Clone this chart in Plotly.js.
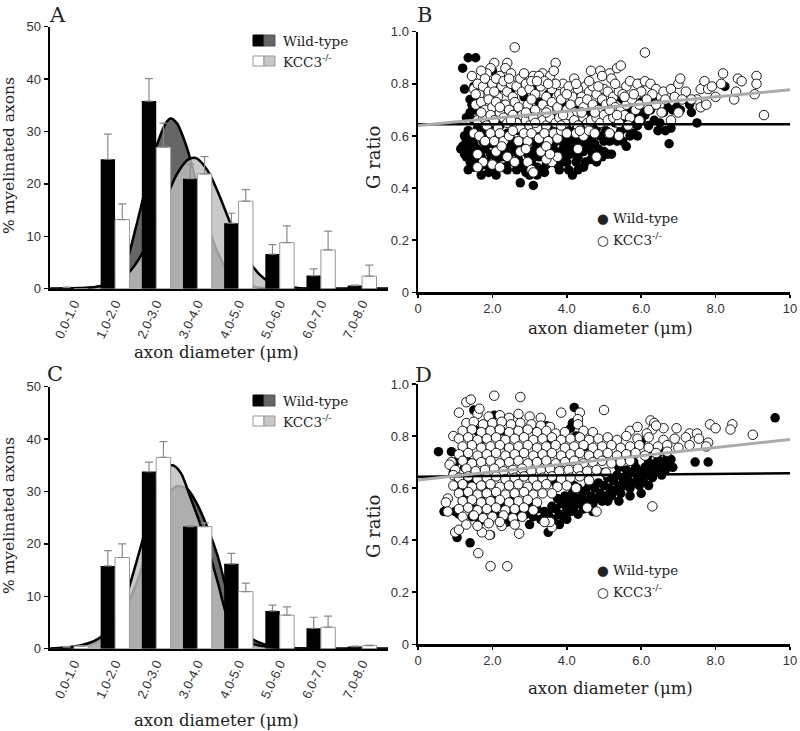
<!DOCTYPE html>
<html><head><meta charset="utf-8">
<script src="https://cdn.plot.ly/plotly-3.0.1.min.js"></script>
<style>html,body{margin:0;padding:0;background:#fff}#chart{width:800px;height:731px}</style>
</head><body><div id="chart"></div>
<script>
// ---------- DATA ----------
const binLabels = ['0.0-1.0','1.0-2.0','2.0-3.0','3.0-4.0','4.0-5.0','5.0-6.0','6.0-7.0','7.0-8.0'];
const binPos = [0,1,2,3,4,5,6,7];

// Panel A (% myelinated axons)
const wtA  = [0.2, 24.7, 35.8, 21.0, 12.5, 6.6, 2.5, 0.6];
const wtAerr = [0.1, 4.8, 4.3, 2.8, 1.9, 1.8, 1.3, 0.1];
const kccA = [0, 13.2, 27.0, 21.9, 16.7, 8.8, 7.4, 2.4];
const kccAerr = [0, 3.0, 4.6, 3.3, 2.2, 3.2, 3.6, 2.1];
// Panel C
const wtC  = [0.3, 15.8, 33.8, 23.3, 16.2, 7.2, 3.9, 0.4];
const wtCerr = [0.1, 2.9, 1.8, 0.2, 2.0, 1.1, 2.1, 0.1];
const kccC = [0.5, 17.4, 36.5, 23.3, 10.9, 6.4, 4.1, 0.6];
const kccCerr = [0.1, 2.6, 3.0, 0.7, 1.6, 1.6, 2.1, 0.1];

// fitted distribution curves (position on bin axis, value)
const wtCurveAx = [-0.58,0,0.5,0.8,1.0,1.25,1.5,1.75,2.0,2.25,2.35,2.5,2.75,3.0,3.25,3.5,3.75,4.0,4.5,5.0,7.63];
const wtCurveAy = [0,0.1,0.3,0.8,1.8,4.5,11.5,19.5,27.0,31.8,32.5,31.6,26.8,19.5,12.3,6.8,3.2,1.3,0.2,0.05,0];
const kccCurveAx = [-0.58,0,0.5,1.0,1.25,1.5,1.75,2.0,2.25,2.5,2.75,2.9,3.0,3.25,3.5,3.75,4.0,4.25,4.5,4.75,5.0,5.5,7.63];
const kccCurveAy = [0,0.05,0.3,1.1,2.4,4.7,8.1,12.5,17.4,21.8,24.5,25.0,24.8,22.5,18.4,13.5,8.9,5.3,2.8,1.3,0.6,0.1,0];
const wtCurveCx = [-0.58,0,0.5,1.0,1.5,1.75,2.0,2.25,2.5,2.75,3.0,3.25,3.5,3.75,4.0,4.25,4.5,4.75,5.0,5.5,7.63];
const wtCurveCy = [0,0.2,1.0,4.0,12.0,18.0,24.0,29.0,31.0,30.5,27.5,23.0,17.5,10.0,4.5,2.2,1.2,0.5,0.2,0.05,0];
const kccCurveCx = [-0.58,0,0.5,0.75,1.0,1.25,1.5,1.75,2.0,2.25,2.4,2.6,2.8,3.05,3.25,3.5,3.75,4.0,4.25,4.5,5.0,5.5,7.63];
const kccCurveCy = [0,0.4,1.5,2.8,5.0,9.5,16.0,23.0,30.0,34.5,35.0,33.5,29.5,24.2,19.5,12.5,5.5,2.5,1.2,0.6,0.2,0.05,0];

// Panel B scatter (axon diameter, G ratio)
const wtB = [[1.15,.55],[1.2,.56],[1.25,.53],[1.3,.58],[1.3,.52],[1.35,.55],[1.4,.50],[1.45,.53],[1.2,.86],[1.25,.78],[1.35,.90],[1.55,.90],[1.5,.79],[1.3,.67],[1.4,.74],[1.45,.72],[1.55,.75],[1.6,.73],[1.55,.70],[1.5,.66],[1.65,.71],[1.4,.69],[1.35,.62],[1.45,.60],[1.5,.57],[1.6,.55],[1.55,.51],[1.65,.48],[1.7,.52],[1.75,.58],[1.7,.62],[1.8,.55],[1.85,.50],[1.9,.46],[1.95,.53],[2.0,.57],[2.05,.47],[2.1,.51],[2.15,.55],[2.2,.59],[2.0,.62],[2.25,.52],[2.3,.48],[2.35,.56],[2.4,.47],[2.45,.53],[2.5,.58],[2.55,.50],[2.6,.54],[2.65,.47],[2.7,.51],[2.75,.42],[2.8,.56],[2.85,.49],[2.9,.46],[2.95,.53],[3.0,.58],[3.05,.50],[3.1,.41],[3.15,.55],[3.2,.48],[3.25,.52],[3.3,.47],[3.35,.57],[3.4,.53],[3.45,.49],[3.5,.55],[3.55,.60],[3.6,.51],[3.65,.57],[3.7,.54],[3.75,.49],[3.8,.47],[3.85,.58],[3.9,.55],[3.95,.52],[4.0,.60],[4.05,.56],[4.1,.53],[4.15,.45],[4.2,.58],[4.25,.55],[4.3,.47],[4.3,.52],[4.35,.60],[4.4,.57],[4.45,.54],[4.5,.62],[4.55,.58],[4.6,.55],[4.65,.51],[4.7,.60],[4.75,.57],[4.8,.63],[4.85,.55],[4.9,.60],[4.95,.52],[5.0,.58],[5.05,.62],[5.1,.53],[5.2,.53],[5.25,.60],[5.3,.65],[5.35,.58],[5.45,.62],[5.5,.58],[5.55,.66],[5.6,.63],[5.7,.60],[5.75,.65],[5.8,.61],[5.85,.67],[5.9,.64],[6.0,.66],[6.05,.69],[6.1,.68],[6.2,.64],[6.25,.70],[6.35,.66],[6.45,.62],[6.5,.65],[6.6,.69],[6.65,.62],[6.75,.57],[6.8,.63],[6.7,.71],[6.85,.70],[6.95,.71],[7.05,.70],[7.35,.69],[7.3,.72],[7.5,.65],[8.25,.79],[1.7,.77],[1.85,.80],[2.0,.85],[2.15,.78],[2.3,.72],[2.5,.78],[2.6,.69],[2.85,.75],[3.0,.70],[3.2,.79],[3.25,.73],[3.5,.76],[3.7,.68],[3.9,.72],[4.1,.66],[4.3,.70],[4.6,.68],[4.9,.72],[5.35,.75],[5.5,.74],[5.2,.69],[5.7,.70],[6.0,.73],[6.3,.74],[1.6,.63],[1.9,.66],[2.2,.64],[2.7,.62],[3.1,.63],[3.6,.64],[4.0,.63],[4.4,.64],[1.8,.60],[2.1,.60],[2.4,.61],[2.9,.60],[3.3,.60],[3.8,.62],[4.2,.62],[1.9,.57],[2.6,.58],[3.2,.57],[3.6,.55],[4.0,.50],[4.5,.50],[4.7,.53],[3.9,.58],[4.1,.59],[4.25,.50],[4.35,.56],[4.5,.57],[1.25,.60],[1.4,.57],[1.5,.48],[1.7,.45],[1.8,.49],[2.1,.45],[2.3,.55],[2.45,.50],[2.55,.56],[2.7,.55],[2.8,.48],[3.0,.45],[3.1,.53],[3.2,.45],[3.4,.46],[3.5,.50],[3.7,.58],[3.9,.50],[4.05,.47],[4.45,.48],[4.6,.60],[4.8,.50],[5.0,.54],[5.15,.58],[5.6,.56],[5.9,.60],[4.1,.56],[3.3,.55],[2.9,.57],[1.35,.47]];
const kccB = [[2.6,.94],[6.1,.92],[2.05,.88],[2.4,.88],[3.7,.88],[1.95,.86],[2.35,.86],[4.65,.85],[4.9,.85],[5.15,.84],[5.35,.86],[5.45,.87],[3.35,.84],[3.55,.83],[4.2,.82],[4.95,.83],[5.2,.82],[1.45,.83],[1.85,.84],[1.7,.85],[2.2,.83],[2.5,.84],[3.1,.83],[3.25,.83],[3.9,.80],[4.5,.79],[5.6,.79],[5.95,.80],[1.5,.78],[1.6,.80],[1.65,.76],[1.75,.79],[1.8,.82],[1.9,.77],[2.0,.80],[2.1,.82],[2.15,.75],[2.25,.79],[2.3,.81],[2.4,.77],[2.5,.80],[2.55,.75],[2.65,.79],[2.75,.82],[2.8,.77],[2.9,.80],[3.0,.78],[3.05,.81],[3.15,.76],[3.3,.79],[3.4,.81],[3.45,.75],[3.6,.78],[3.7,.80],[3.8,.76],[3.95,.77],[4.05,.79],[4.15,.75],[4.3,.78],[4.4,.75],[4.6,.77],[4.7,.79],[4.8,.76],[5.0,.78],[5.1,.77],[5.25,.75],[5.4,.77],[5.5,.76],[1.55,.72],[1.7,.73],[1.8,.70],[1.9,.74],[2.0,.71],[2.1,.73],[2.2,.69],[2.35,.72],[2.45,.70],[2.6,.73],[2.7,.71],[2.8,.68],[2.95,.72],[3.05,.74],[3.15,.70],[3.25,.67],[3.35,.72],[3.5,.70],[3.6,.73],[3.75,.71],[3.85,.74],[4.0,.70],[4.1,.72],[4.2,.69],[4.35,.73],[4.45,.71],[4.55,.74],[4.7,.72],[4.85,.70],[4.95,.74],[5.05,.72],[5.2,.73],[5.3,.71],[5.45,.70],[5.6,.72],[5.75,.74],[1.6,.66],[1.75,.67],[1.85,.64],[1.95,.68],[2.05,.66],[2.15,.63],[2.3,.67],[2.4,.65],[2.55,.68],[2.65,.65],[2.75,.63],[2.9,.66],[3.0,.64],[3.1,.67],[3.2,.63],[3.35,.66],[3.45,.64],[3.55,.67],[3.7,.65],[3.8,.67],[3.95,.65],[4.05,.68],[4.2,.66],[4.3,.64],[4.45,.67],[4.55,.65],[4.65,.66],[4.8,.67],[4.9,.65],[5.0,.68],[5.1,.66],[5.25,.67],[5.4,.65],[5.55,.68],[5.7,.67],[5.85,.70],[5.95,.72],[1.5,.61],[1.65,.60],[1.8,.58],[1.95,.61],[2.05,.58],[2.2,.61],[2.3,.58],[2.45,.60],[2.55,.62],[2.7,.58],[2.85,.61],[2.95,.58],[3.05,.61],[3.25,.59],[3.4,.61],[3.5,.58],[3.65,.61],[3.75,.59],[3.85,.62],[4.0,.61],[4.25,.61],[4.45,.60],[4.6,.62],[4.75,.61],[5.15,.61],[5.4,.60],[1.6,.53],[1.75,.50],[1.6,.48],[2.0,.49],[2.1,.54],[2.25,.56],[2.4,.52],[2.2,.48],[2.6,.50],[2.75,.54],[2.9,.55],[2.95,.50],[3.05,.47],[3.1,.46],[3.3,.54],[3.45,.56],[3.6,.50],[3.75,.52],[3.45,.51],[4.8,.52],[4.3,.55],[3.55,.53],[5.7,.81],[5.9,.80],[6.1,.81],[6.25,.80],[6.4,.78],[6.6,.77],[6.8,.78],[7.0,.80],[7.05,.82],[7.2,.77],[7.5,.74],[7.6,.78],[7.7,.81],[7.8,.78],[7.9,.79],[8.0,.75],[8.2,.84],[8.15,.80],[8.5,.74],[8.55,.77],[8.6,.82],[8.7,.81],[9.1,.83],[9.1,.80],[9.05,.76],[9.3,.68],[7.6,.71],[7.35,.74],[6.8,.66],[6.5,.72],[6.0,.77],[6.3,.76],[6.65,.74],[6.9,.75],[7.1,.74],[5.8,.76],[6.15,.74],[6.4,.72],[7.75,.72],[6.2,.70],[6.55,.69],[7.0,.69],[5.65,.64],[5.95,.66],[1.55,.76],[2.05,.77],[2.45,.82],[2.85,.84],[3.2,.81],[3.5,.80],[3.65,.85],[4.0,.76],[4.25,.80],[4.6,.81],[4.85,.79],[5.3,.80],[5.55,.75],[2.2,.71],[2.9,.69],[3.45,.69],[3.9,.68],[4.4,.69],[4.75,.69],[5.15,.70],[5.35,.68],[1.7,.69],[2.5,.66],[3.15,.65],[3.85,.64],[4.35,.62]];

// Panel D scatter
const wtD = [[0.55,.74],[0.7,.51],[1.05,.41],[1.4,.39],[0.9,.74],[1.0,.70],[1.15,.73],[1.2,.75],[1.5,.90],[2.05,.88],[4.2,.91],[4.15,.85],[3.45,.84],[9.6,.87],[7.45,.70],[7.8,.70],[3.5,.43],[3.0,.46],[1.95,.42],[0.95,.66],[1.0,.51],[1.1,.50],[1.15,.60],[1.2,.55],[1.25,.68],[1.3,.58],[1.35,.53],[1.4,.62],[1.45,.49],[1.5,.57],[1.55,.52],[1.6,.65],[1.65,.47],[1.7,.55],[1.75,.49],[1.8,.60],[1.85,.52],[1.9,.47],[2.0,.55],[2.05,.50],[2.1,.58],[2.2,.49],[2.3,.53],[2.4,.47],[2.5,.51],[2.6,.56],[2.7,.49],[2.8,.52],[2.9,.50],[3.0,.54],[3.1,.49],[3.2,.52],[3.3,.48],[3.4,.51],[1.3,.80],[1.45,.78],[1.6,.82],[1.8,.79],[2.0,.75],[2.25,.82],[2.4,.76],[2.8,.80],[3.2,.82],[3.5,.78],[3.7,.62],[3.9,.70],[4.1,.83],[4.25,.80],[4.5,.76],[1.1,.63],[1.35,.70],[1.25,.64],[3.5,.50],[3.6,.53],[3.65,.48],[3.7,.52],[3.75,.56],[3.8,.50],[3.85,.54],[3.9,.49],[3.95,.57],[4.0,.52],[4.05,.55],[4.1,.51],[4.15,.58],[4.2,.53],[4.25,.56],[4.3,.60],[4.35,.54],[4.4,.57],[4.45,.52],[4.5,.59],[4.55,.55],[4.6,.61],[4.65,.57],[4.7,.54],[4.75,.60],[4.8,.56],[4.85,.62],[4.9,.58],[4.95,.55],[5.0,.61],[5.05,.57],[5.1,.64],[5.15,.60],[5.2,.57],[5.25,.63],[5.3,.59],[5.35,.65],[5.4,.61],[5.45,.58],[5.5,.64],[5.55,.61],[5.6,.67],[5.65,.63],[5.7,.60],[5.75,.66],[5.8,.62],[5.85,.68],[5.9,.64],[5.95,.61],[6.0,.66],[6.05,.63],[6.1,.68],[6.15,.65],[6.2,.70],[6.25,.67],[6.3,.64],[6.35,.69],[6.4,.66],[6.45,.71],[6.5,.68],[6.55,.65],[6.6,.70],[6.65,.67],[6.7,.72],[6.75,.69],[6.8,.71],[6.85,.68],[6.0,.58],[5.7,.57],[6.2,.61],[5.4,.55],[5.1,.55],[4.7,.51],[4.3,.50],[4.0,.48],[3.8,.46],[4.2,.61],[4.6,.63],[5.0,.66],[5.4,.68],[5.8,.70],[6.2,.73],[6.5,.74],[6.0,.78],[4.3,.86],[5.6,.72]];
const kccD = [[1.6,.885],[1.9,.875],[2.2,.88],[2.45,.87],[2.7,.885],[3.0,.875],[3.3,.87],[2.05,.955],[2.75,.95],[1.3,.93],[1.42,.94],[1.1,.89],[1.65,.905],[3.85,.89],[4.35,.89],[4.3,.865],[5.0,.9],[6.25,.86],[6.35,.85],[7.85,.845],[8.45,.845],[8.4,.825],[9.0,.805],[7.8,.775],[6.3,.53],[4.8,.51],[4.55,.525],[1.62,.35],[1.95,.30],[2.4,.30],[1.92,.42],[2.72,.425],[1.72,.43],[1.0,.43],[1.1,.44],[0.8,.56],[0.75,.545],[0.8,.51],[0.95,.80],[3.6,.45],[3.55,.47],[2.25,.455],[1.3,.85],[1.5,.855],[1.75,.845],[2.0,.85],[2.25,.855],[2.5,.845],[2.75,.85],[3.05,.845],[3.3,.84],[3.55,.835],[4.3,.845],[1.2,.82],[1.45,.825],[1.7,.815],[1.95,.82],[2.2,.825],[2.45,.815],[2.7,.82],[2.95,.825],[3.2,.815],[3.45,.82],[3.7,.81],[3.95,.815],[4.45,.82],[4.7,.815],[5.7,.82],[6.3,.825],[6.15,.81],[6.6,.83],[6.95,.83],[7.3,.81],[7.5,.81],[8.0,.83],[5.9,.835],[6.4,.84],[1.1,.79],[1.35,.795],[1.6,.785],[1.85,.79],[2.1,.795],[2.35,.785],[2.6,.79],[2.85,.795],[3.1,.785],[3.35,.79],[3.6,.795],[3.85,.785],[4.1,.79],[4.35,.795],[4.6,.785],[4.85,.79],[5.1,.795],[5.35,.785],[5.9,.79],[6.2,.795],[6.6,.785],[6.9,.79],[7.2,.795],[7.55,.79],[5.6,.8],[1.2,.76],[1.45,.765],[1.7,.755],[1.95,.76],[2.2,.765],[2.45,.755],[2.7,.76],[2.95,.765],[3.2,.755],[3.45,.76],[3.7,.765],[3.95,.755],[4.2,.76],[4.45,.765],[4.7,.755],[4.95,.76],[5.2,.765],[5.45,.755],[5.7,.76],[5.95,.765],[6.2,.755],[6.45,.76],[6.7,.765],[7.0,.755],[7.3,.765],[7.75,.76],[1.1,.73],[1.35,.735],[1.6,.725],[1.85,.73],[2.1,.735],[2.35,.725],[2.6,.73],[2.85,.735],[3.1,.725],[3.35,.73],[3.6,.735],[3.85,.725],[4.1,.73],[4.35,.735],[4.6,.725],[4.85,.73],[5.1,.735],[5.35,.725],[5.6,.73],[5.85,.735],[6.1,.725],[6.4,.735],[6.7,.74],[0.9,.70],[1.2,.705],[1.45,.695],[1.7,.70],[1.95,.705],[2.2,.695],[2.45,.70],[2.7,.705],[2.95,.695],[3.2,.70],[3.45,.705],[3.7,.695],[3.95,.70],[4.2,.705],[4.45,.695],[4.7,.70],[4.95,.705],[5.2,.695],[5.45,.70],[5.7,.705],[0.85,.69],[1.0,.67],[1.3,.675],[1.55,.665],[1.8,.67],[2.05,.675],[2.3,.665],[2.55,.67],[2.8,.675],[3.05,.665],[3.3,.67],[3.55,.675],[3.8,.665],[4.05,.67],[4.3,.675],[4.55,.665],[4.8,.67],[5.05,.66],[0.95,.65],[1.1,.64],[1.35,.645],[1.6,.635],[1.85,.64],[2.1,.645],[2.35,.635],[2.6,.64],[2.85,.645],[3.1,.635],[3.35,.64],[3.6,.645],[3.85,.635],[4.1,.64],[4.35,.645],[4.6,.63],[0.95,.61],[1.2,.615],[1.45,.605],[1.7,.61],[1.95,.615],[2.2,.605],[2.45,.61],[2.7,.615],[2.95,.605],[3.2,.61],[3.45,.615],[3.75,.605],[4.0,.61],[4.25,.6],[1.1,.58],[1.35,.585],[1.6,.575],[1.85,.58],[2.1,.585],[2.35,.575],[2.6,.58],[2.85,.585],[3.1,.575],[3.35,.58],[3.6,.58],[1.2,.55],[1.45,.555],[1.7,.545],[1.95,.55],[2.2,.555],[2.45,.545],[2.7,.55],[2.95,.555],[3.2,.545],[1.1,.52],[1.35,.525],[1.6,.515],[1.85,.52],[2.1,.525],[2.35,.515],[2.6,.52],[2.85,.525],[3.1,.515],[1.2,.49],[1.5,.495],[1.75,.485],[2.0,.49],[2.3,.495],[2.55,.485],[2.8,.49],[1.3,.46],[1.6,.455],[1.9,.465],[2.2,.47],[2.6,.46],[3.4,.47]];

// regression lines (x ends, G ratio)
const fitX = [0, 10];
const wtFitB = [0.645, 0.645];
const kccFitB = [0.640, 0.777];
const wtFitD = [0.644, 0.657];
const kccFitD = [0.631, 0.787];

const scatterTicks = [0,2,4,6,8,10];
const scatterTickText = ['0','2.0','4.0','6.0','8.0','10'];
const gTicks = [0,0.2,0.4,0.6,0.8,1.0];
const gTickText = ['0','0.2','0.4','0.6','0.8','1.0'];
const pctTicks = [0,10,20,30,40,50];

// ---------- BUILD ----------
const px = x => x/800, py = y => 1 - y/731;
const zeros = binPos.map(()=>0);
const xs = a => a.map(p=>p[0]), ys = a => a.map(p=>p[1]);

function curve(x, y, xa, ya, fill, lineCol){
  return {type:'scatter', mode:'lines', x:x, y:y, xaxis:xa, yaxis:ya, fill:'tozeroy',
    fillcolor:fill, line:{color:lineCol, width:2.5, shape:'spline', smoothing:0.8}, hoverinfo:'skip'};
}
function bars(vals, errs, xa, ya, col, lineCol, lw){
  return {type:'bar', x:binPos, y:vals, xaxis:xa, yaxis:ya,
    marker:{color:col, line:{color:lineCol, width:lw}},
    error_y:{type:'data', symmetric:false, array:errs, arrayminus:zeros, color:'#8a8a8a', thickness:1.2, width:4}};
}
function pts(arr, xa, ya, filled){
  return {type:'scatter', mode:'markers', x:xs(arr), y:ys(arr), xaxis:xa, yaxis:ya,
    marker:{size:9.5, color: filled ? '#000' : '#fff', line:{color: filled ? '#000' : '#1a1a1a', width: filled ? 0 : 1}}};
}
function fit(y, xa, ya, col, w){
  return {type:'scatter', mode:'lines', x:fitX, y:y, xaxis:xa, yaxis:ya, line:{color:col, width:w}};
}

const data = [
  curve(wtCurveAx, wtCurveAy, 'x', 'y', '#666666', '#000'),
  curve(kccCurveAx, kccCurveAy, 'x', 'y', 'rgba(190,190,190,0.82)', '#000'),
  bars(wtA, wtAerr, 'x5', 'y5', '#000', '#000', 0),
  bars(kccA, kccAerr, 'x5', 'y5', '#fff', '#999', 1),
  curve(wtCurveCx, wtCurveCy, 'x3', 'y3', '#666666', '#000'),
  curve(kccCurveCx, kccCurveCy, 'x3', 'y3', 'rgba(190,190,190,0.82)', '#000'),
  bars(wtC, wtCerr, 'x6', 'y6', '#000', '#000', 0),
  bars(kccC, kccCerr, 'x6', 'y6', '#fff', '#999', 1),
  pts(wtB, 'x2', 'y2', true),
  pts(kccB, 'x2', 'y2', false),
  fit(wtFitB, 'x2', 'y2', '#000', 2.5),
  fit(kccFitB, 'x2', 'y2', '#ababab', 3),
  pts(wtD, 'x4', 'y4', true),
  pts(kccD, 'x4', 'y4', false),
  fit(wtFitD, 'x4', 'y4', '#000', 2.5),
  fit(kccFitD, 'x4', 'y4', '#ababab', 3)
];

const tickFont = {family:'Liberation Sans, Arial, sans-serif', size:13, color:'#333'};
const baseAx = {showline:true, linecolor:'#000', linewidth:2.5, showgrid:false, zeroline:false,
  ticks:'outside', ticklen:4, tickwidth:1.5, tickcolor:'#000', tickfont:tickFont, fixedrange:true};
const barX = (dom, anchor) => Object.assign({}, baseAx, {domain:dom, anchor:anchor, range:[-0.58,7.63],
  tickmode:'array', tickvals:binPos, ticktext:binLabels, tickangle:-65, ticks:''});
const pctY = (dom, anchor) => Object.assign({}, baseAx, {domain:dom, anchor:anchor, range:[0,50],
  tickmode:'array', tickvals:pctTicks});
const scX = (dom, anchor) => Object.assign({}, baseAx, {domain:dom, anchor:anchor, range:[0,10],
  tickmode:'array', tickvals:scatterTicks, ticktext:scatterTickText, ticklen:3});
const scY = (dom, anchor) => Object.assign({}, baseAx, {domain:dom, anchor:anchor, range:[0,1],
  tickmode:'array', tickvals:gTicks, ticktext:gTickText});

const domLeft = [px(50), px(388)], domRight = [px(418), px(790)];
const domA = [py(288.7), py(26.7)], domC = [py(648.7), py(386.7)];
const domB = [py(292.3), py(31.7)], domD = [py(644.3), py(384)];

const serif = 'DejaVu Serif, serif';
function ann(text, x, y, opts){
  return Object.assign({text:text, x:px(x), y:py(y), xref:'paper', yref:'paper', showarrow:false,
    xanchor:'center', yanchor:'middle', font:{family:serif, size:16.5, color:'#222'}}, opts||{});
}
const letterFont = {family:serif, size:21, color:'#222'};
const legFont = {family:serif, size:13.5, color:'#222'};
const annotations = [
  ann('A', 47, 1, {xanchor:'left', yanchor:'top', font:letterFont}),
  ann('B', 415, 1, {xanchor:'left', yanchor:'top', font:letterFont}),
  ann('C', 45, 360, {xanchor:'left', yanchor:'top', font:letterFont}),
  ann('D', 413, 361, {xanchor:'left', yanchor:'top', font:letterFont}),
  ann('% myelinated axons', 9, 156, {textangle:-90, font:{family:serif, size:15.5, color:'#222'}}),
  ann('% myelinated axons', 9, 516, {textangle:-90, font:{family:serif, size:15.5, color:'#222'}}),
  ann('G ratio', 373, 158, {textangle:-90, font:{family:serif, size:18, color:'#222'}}),
  ann('G ratio', 373, 527, {textangle:-90, font:{family:serif, size:18, color:'#222'}}),
  ann('axon diameter (μm)', 216, 352),
  ann('axon diameter (μm)', 216, 720),
  ann('axon diameter (μm)', 610, 328, {yanchor:'middle'}),
  ann('axon diameter (μm)', 610, 688, {yanchor:'middle'}),
  ann('Wild-type', 281, 41, {xanchor:'left', font:legFont}),
  ann('KCC3<sup>-/-</sup>', 281, 61, {xanchor:'left', font:legFont}),
  ann('Wild-type', 281, 401, {xanchor:'left', font:legFont}),
  ann('KCC3<sup>-/-</sup>', 281, 421, {xanchor:'left', font:legFont}),
  ann('<span style="font-family:DejaVu Sans">●</span> Wild-type', 595, 218, {xanchor:'left', font:legFont}),
  ann('<span style="font-family:DejaVu Sans">○</span> KCC3<sup>-/-</sup>', 595, 239, {xanchor:'left', font:legFont}),
  ann('<span style="font-family:DejaVu Sans">●</span> Wild-type', 595, 570, {xanchor:'left', font:legFont}),
  ann('<span style="font-family:DejaVu Sans">○</span> KCC3<sup>-/-</sup>', 595, 591, {xanchor:'left', font:legFont})
];
function swatch(x0, x1, y0, y1, fill, line){
  return {type:'rect', xref:'paper', yref:'paper', x0:px(x0), x1:px(x1), y0:py(y1), y1:py(y0),
    fillcolor:fill, line:{color:line, width:1}};
}
function legendSwatches(dy){
  return [
    swatch(253, 264, 35+dy, 46+dy, '#000', '#000'),
    swatch(264, 275, 35+dy, 46+dy, '#666', '#555'),
    swatch(253, 264, 56+dy, 66+dy, '#fff', '#999'),
    swatch(264, 275, 56+dy, 66+dy, '#c8c8c8', '#999')
  ];
}

const layout = {
  width:800, height:731, margin:{l:0, r:0, t:0, b:0},
  paper_bgcolor:'#fff', plot_bgcolor:'rgba(0,0,0,0)', showlegend:false,
  barmode:'group', bargap:0.3, bargroupgap:0,
  xaxis: barX(domLeft, 'y'), yaxis: pctY(domA, 'x'),
  xaxis5: {overlaying:'x', anchor:'y5', range:[-0.58,7.63], visible:false, fixedrange:true},
  yaxis5: {overlaying:'y', anchor:'x5', range:[0,50], visible:false, fixedrange:true},
  xaxis3: barX(domLeft, 'y3'), yaxis3: pctY(domC, 'x3'),
  xaxis6: {overlaying:'x3', anchor:'y6', range:[-0.58,7.63], visible:false, fixedrange:true},
  yaxis6: {overlaying:'y3', anchor:'x6', range:[0,50], visible:false, fixedrange:true},
  xaxis2: scX(domRight, 'y2'), yaxis2: scY(domB, 'x2'),
  xaxis4: scX(domRight, 'y4'), yaxis4: scY(domD, 'x4'),
  annotations: annotations,
  shapes: legendSwatches(0).concat(legendSwatches(360))
};

Plotly.newPlot('chart', data, layout, {displayModeBar:false, staticPlot:true});
</script></body></html>
